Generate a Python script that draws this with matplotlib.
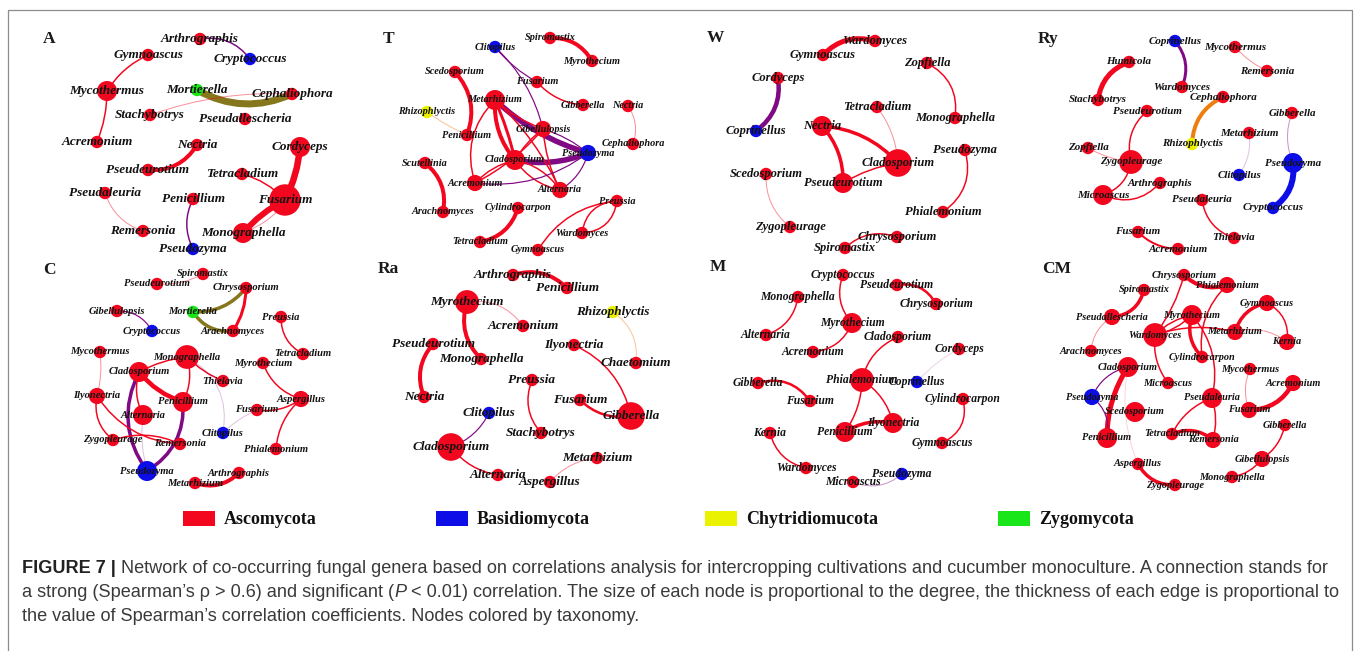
import matplotlib
matplotlib.use('Agg')
import matplotlib.pyplot as plt
from matplotlib.patches import Circle, FancyArrowPatch, Rectangle
from matplotlib import colors as mcolors
from matplotlib import font_manager
from matplotlib.font_manager import FontProperties
import numpy as np

# taxonomy colours used for the nodes
phylum_colors = {'Asc': '#f2071f', 'Bas': '#0d0de8', 'Chy': '#eaf200', 'Zyg': '#19e619'}
phylum_names = [('Asc', 'Ascomycota'), ('Bas', 'Basidiomycota'),
                ('Chy', 'Chytridiomucota'), ('Zyg', 'Zygomycota')]

# ---- network layouts: (genus, x, y, degree, phylum) and edges: (a, b, weight, bend)
nodes_A = [
    ("Arthrographis", 200, 39, 1, 'Asc'), ("Cryptococcus", 250, 59, 1, 'Bas'),
    ("Gymnoascus", 148, 55, 1, 'Asc'), ("Mycothermus", 107, 91, 3, 'Asc'),
    ("Mortierella", 197, 90, 1, 'Zyg'), ("Cephaliophora", 292, 94, 1, 'Asc'),
    ("Stachybotrys", 150, 115, 1, 'Asc'), ("Pseudallescheria", 245, 119, 1, 'Asc'),
    ("Acremonium", 97, 142, 1, 'Asc'), ("Nectria", 197, 145, 1, 'Asc'),
    ("Cordyceps", 300, 147, 3, 'Asc'), ("Pseudeurotium", 148, 170, 1, 'Asc'),
    ("Tetracladium", 242, 174, 1, 'Asc'), ("Pseudaleuria", 105, 193, 1, 'Asc'),
    ("Penicillium", 193, 199, 1, 'Asc'), ("Fusarium", 285, 200, 6, 'Asc'),
    ("Remersonia", 143, 231, 1, 'Asc'), ("Monographella", 243, 233, 3, 'Asc'),
    ("Pseudozyma", 193, 249, 1, 'Bas'),
]
edges_A = [
    ("Arthrographis", "Cryptococcus", 1.5, -0.3), ("Gymnoascus", "Mycothermus", 1.5, 0.15),
    ("Mycothermus", "Acremonium", 1.5, -0.1), ("Mortierella", "Cephaliophora", 7, 0.25),
    ("Stachybotrys", "Cephaliophora", 0.8, -0.1), ("Nectria", "Pseudeurotium", 4, -0.3),
    ("Cordyceps", "Fusarium", 6.5, -0.1), ("Tetracladium", "Fusarium", 1.5, -0.15),
    ("Fusarium", "Monographella", 6, 0.1), ("Cordyceps", "Monographella", 0.8, -0.35),
    ("Pseudaleuria", "Remersonia", 0.8, 0.25), ("Penicillium", "Pseudozyma", 1.5, 0.25),
]

nodes_T = [
    ("Clitopilus", 495, 47, 1, 'Bas'), ("Spiromastix", 550, 38, 1, 'Asc'),
    ("Myrothecium", 592, 61, 1, 'Asc'), ("Scedosporium", 455, 72, 1, 'Asc'),
    ("Fusarium", 537, 82, 1, 'Asc'), ("Metarhizium", 495, 100, 3, 'Asc'),
    ("Gibberella", 583, 105, 1, 'Asc'), ("Nectria", 628, 106, 1, 'Asc'),
    ("Rhizophlyctis", 427, 112, 1, 'Chy'), ("Penicillium", 467, 135, 1, 'Asc'),
    ("Gibellulopsis", 543, 129, 2, 'Asc'), ("Cephaliophora", 633, 144, 1, 'Asc'),
    ("Pseudozyma", 588, 153, 2, 'Bas'), ("Cladosporium", 515, 160, 3, 'Asc'),
    ("Scutellinia", 425, 163, 1, 'Asc'), ("Acremonium", 475, 183, 2, 'Asc'),
    ("Alternaria", 560, 190, 2, 'Asc'), ("Preussia", 617, 201, 1, 'Asc'),
    ("Arachnomyces", 443, 212, 1, 'Asc'), ("Cylindrocarpon", 518, 208, 1, 'Asc'),
    ("Wardomyces", 582, 233, 1, 'Asc'), ("Tetracladium", 480, 242, 1, 'Asc'),
    ("Gymnoascus", 538, 250, 1, 'Asc'),
]
edges_T = [
    ("Clitopilus", "Fusarium", 1.2, 0.1), ("Clitopilus", "Gibellulopsis", 1.2, -0.15),
    ("Spiromastix", "Myrothecium", 4, -0.3), ("Scedosporium", "Penicillium", 4, -0.3),
    ("Fusarium", "Gibberella", 1.5, 0.2), ("Nectria", "Cephaliophora", 0.8, -0.25),
    ("Rhizophlyctis", "Penicillium", 0.8, 0.05), ("Metarhizium", "Pseudozyma", 5.5, 0.12),
    ("Cladosporium", "Pseudozyma", 5.5, 0.15), ("Metarhizium", "Cladosporium", 4, 0.2),
    ("Metarhizium", "Cladosporium", 3, -0.05), ("Metarhizium", "Acremonium", 1.5, 0.3),
    ("Metarhizium", "Gibellulopsis", 1.5, 0.1), ("Metarhizium", "Alternaria", 1.5, -0.1),
    ("Cladosporium", "Acremonium", 1.5, 0.15), ("Cladosporium", "Alternaria", 1.5, -0.2),
    ("Cladosporium", "Alternaria", 1.5, 0.2), ("Cladosporium", "Gibellulopsis", 1.5, -0.1),
    ("Acremonium", "Gibellulopsis", 1.5, 0.1), ("Gibellulopsis", "Alternaria", 1.5, 0.1),
    ("Acremonium", "Pseudozyma", 1.2, 0.2), ("Alternaria", "Pseudozyma", 1.2, 0.2),
    ("Gibellulopsis", "Pseudozyma", 1.2, -0.1), ("Scutellinia", "Arachnomyces", 4, -0.3),
    ("Cylindrocarpon", "Tetracladium", 4, -0.3), ("Preussia", "Wardomyces", 1.5, 0.4),
    ("Preussia", "Wardomyces", 1.5, -0.4), ("Preussia", "Gymnoascus", 1.5, 0.25),
]

nodes_W = [
    ("Wardomyces", 875, 41, 1, 'Asc'), ("Gymnoascus", 823, 55, 1, 'Asc'),
    ("Zopfiella", 927, 63, 1, 'Asc'), ("Cordyceps", 778, 78, 1, 'Asc'),
    ("Tetracladium", 877, 107, 1, 'Asc'), ("Monographella", 955, 118, 1, 'Asc'),
    ("Coprinellus", 756, 131, 1, 'Bas'), ("Nectria", 822, 126, 3, 'Asc'),
    ("Pseudozyma", 965, 150, 1, 'Asc'), ("Cladosporium", 898, 163, 5, 'Asc'),
    ("Scedosporium", 766, 174, 1, 'Asc'), ("Pseudeurotium", 843, 183, 3, 'Asc'),
    ("Phialemonium", 943, 212, 1, 'Asc'), ("Zygopleurage", 790, 227, 1, 'Asc'),
    ("Chrysosporium", 897, 237, 1, 'Asc'), ("Spiromastix", 845, 248, 1, 'Asc'),
]
edges_W = [
    ("Gymnoascus", "Wardomyces", 5, -0.3), ("Zopfiella", "Monographella", 1.5, -0.35),
    ("Cordyceps", "Coprinellus", 4.5, -0.3), ("Tetracladium", "Cladosporium", 0.8, -0.15),
    ("Nectria", "Cladosporium", 3.5, -0.2), ("Nectria", "Pseudeurotium", 3.5, -0.2),
    ("Pseudeurotium", "Cladosporium", 1.5, -0.1), ("Pseudozyma", "Phialemonium", 1.5, -0.35),
    ("Scedosporium", "Zygopleurage", 0.8, 0.25), ("Spiromastix", "Chrysosporium", 1.5, -0.3),
]

nodes_Ry = [
    ("Coprinellus", 1175, 41, 1, 'Bas'), ("Mycothermus", 1235, 47, 1, 'Asc'),
    ("Humicola", 1129, 62, 1, 'Asc'), ("Remersonia", 1267, 71, 1, 'Asc'),
    ("Wardomyces", 1182, 87, 1, 'Asc'), ("Cephaliophora", 1223, 97, 1, 'Asc'),
    ("Stachybotrys", 1098, 100, 1, 'Asc'), ("Pseudeurotium", 1147, 111, 1, 'Asc'),
    ("Gibberella", 1292, 113, 1, 'Asc'), ("Metarhizium", 1249, 133, 1, 'Asc'),
    ("Rhizophlyctis", 1192, 144, 1, 'Chy'), ("Zopfiella", 1088, 148, 1, 'Asc'),
    ("Zygopleurage", 1131, 162, 4, 'Asc'), ("Pseudozyma", 1293, 163, 3, 'Bas'),
    ("Clitopilus", 1239, 175, 1, 'Bas'), ("Arthrographis", 1160, 183, 1, 'Asc'),
    ("Microascus", 1103, 195, 3, 'Asc'), ("Pseudaleuria", 1202, 200, 1, 'Asc'),
    ("Cryptococcus", 1273, 208, 1, 'Bas'), ("Fusarium", 1138, 232, 1, 'Asc'),
    ("Thielavia", 1234, 238, 1, 'Asc'), ("Acremonium", 1178, 249, 1, 'Asc'),
]
edges_Ry = [
    ("Coprinellus", "Wardomyces", 3, -0.3), ("Mycothermus", "Remersonia", 0.8, 0.1),
    ("Humicola", "Stachybotrys", 5, 0.3), ("Cephaliophora", "Rhizophlyctis", 4, 0.3),
    ("Pseudeurotium", "Zygopleurage", 1.5, 0.3), ("Zopfiella", "Zygopleurage", 0.8, 0.1),
    ("Zygopleurage", "Microascus", 1.5, -0.3), ("Microascus", "Arthrographis", 1.5, 0.35),
    ("Gibberella", "Pseudozyma", 0.8, 0.2), ("Metarhizium", "Clitopilus", 0.6, -0.2),
    ("Pseudozyma", "Cryptococcus", 6, -0.3), ("Pseudaleuria", "Thielavia", 1.5, 0.3),
    ("Fusarium", "Acremonium", 2, 0.2),
]

nodes_C = [
    ("Spiromastix", 203, 274, 1, 'Asc'), ("Pseudeurotium", 157, 284, 1, 'Asc'),
    ("Chrysosporium", 246, 288, 1, 'Asc'), ("Gibellulopsis", 117, 311, 1, 'Asc'),
    ("Mortierella", 193, 312, 1, 'Zyg'), ("Preussia", 281, 317, 1, 'Asc'),
    ("Cryptococcus", 152, 331, 1, 'Bas'), ("Arachnomyces", 233, 331, 1, 'Asc'),
    ("Mycothermus", 100, 352, 1, 'Asc'), ("Monographella", 187, 357, 4, 'Asc'),
    ("Tetracladium", 303, 354, 1, 'Asc'), ("Myrothecium", 263, 363, 1, 'Asc'),
    ("Cladosporium", 139, 372, 3, 'Asc'), ("Thielavia", 223, 381, 1, 'Asc'),
    ("Ilyonectria", 97, 396, 2, 'Asc'), ("Penicillium", 183, 402, 3, 'Asc'),
    ("Aspergillus", 301, 399, 2, 'Asc'), ("Alternaria", 143, 415, 3, 'Asc'),
    ("Fusarium", 257, 410, 1, 'Asc'), ("Clitopilus", 223, 433, 1, 'Bas'),
    ("Zygopleurage", 113, 440, 1, 'Asc'), ("Remersonia", 180, 444, 1, 'Asc'),
    ("Phialemonium", 276, 449, 1, 'Asc'), ("Pseudozyma", 147, 471, 3, 'Bas'),
    ("Arthrographis", 239, 473, 1, 'Asc'), ("Metarhizium", 195, 483, 1, 'Asc'),
]
edges_C = [
    ("Spiromastix", "Pseudeurotium", 0.8, -0.15), ("Mortierella", "Chrysosporium", 3.5, 0.25),
    ("Mortierella", "Arachnomyces", 3.5, 0.3), ("Chrysosporium", "Arachnomyces", 3, -0.15),
    ("Gibellulopsis", "Cryptococcus", 1.2, -0.3), ("Preussia", "Tetracladium", 1.5, 0.3),
    ("Mycothermus", "Ilyonectria", 0.8, -0.1), ("Monographella", "Cladosporium", 1.5, 0.1),
    ("Monographella", "Thielavia", 1.5, 0.1), ("Monographella", "Penicillium", 1.5, -0.2),
    ("Monographella", "Clitopilus", 0.6, -0.35), ("Cladosporium", "Penicillium", 4.5, 0.15),
    ("Cladosporium", "Alternaria", 1.5, 0.2), ("Cladosporium", "Pseudozyma", 3.5, 0.3),
    ("Penicillium", "Pseudozyma", 3.5, -0.3), ("Alternaria", "Pseudozyma", 0.6, 0.1),
    ("Ilyonectria", "Zygopleurage", 1.5, 0.3), ("Ilyonectria", "Remersonia", 1.5, 0.25),
    ("Zygopleurage", "Remersonia", 1.5, -0.2), ("Myrothecium", "Aspergillus", 1.5, 0.25),
    ("Fusarium", "Aspergillus", 1.5, 0.2), ("Aspergillus", "Phialemonium", 1.5, 0.2),
    ("Fusarium", "Clitopilus", 0.6, 0.1), ("Arthrographis", "Metarhizium", 4, -0.3),
]

nodes_Ra = [
    ("Arthrographis", 513, 275, 1, 'Asc'), ("Penicillium", 567, 288, 1, 'Asc'),
    ("Myrothecium", 467, 302, 4, 'Asc'), ("Rhizophlyctis", 613, 312, 1, 'Chy'),
    ("Acremonium", 523, 326, 1, 'Asc'), ("Pseudeurotium", 433, 344, 1, 'Asc'),
    ("Ilyonectria", 574, 345, 1, 'Asc'), ("Monographella", 481, 359, 1, 'Asc'),
    ("Chaetomium", 636, 363, 1, 'Asc'), ("Preussia", 532, 380, 1, 'Asc'),
    ("Nectria", 424, 397, 1, 'Asc'), ("Fusarium", 580, 400, 1, 'Asc'),
    ("Clitopilus", 489, 413, 1, 'Bas'), ("Gibberella", 631, 416, 5, 'Asc'),
    ("Stachybotrys", 541, 433, 1, 'Asc'), ("Cladosporium", 451, 447, 5, 'Asc'),
    ("Metarhizium", 597, 458, 1, 'Asc'), ("Alternaria", 498, 475, 1, 'Asc'),
    ("Aspergillus", 550, 482, 1, 'Asc'),
]
edges_Ra = [
    ("Arthrographis", "Penicillium", 4, -0.3), ("Myrothecium", "Acremonium", 0.8, -0.3),
    ("Myrothecium", "Monographella", 4, 0.3), ("Rhizophlyctis", "Chaetomium", 0.8, -0.3),
    ("Pseudeurotium", "Nectria", 4, 0.3), ("Ilyonectria", "Gibberella", 1.5, -0.25),
    ("Preussia", "Stachybotrys", 1.5, 0.3), ("Fusarium", "Gibberella", 2.5, 0.25),
    ("Clitopilus", "Cladosporium", 1.2, -0.2), ("Cladosporium", "Alternaria", 1.5, 0.2),
    ("Metarhizium", "Aspergillus", 0.8, 0.2),
]

nodes_M = [
    ("Cryptococcus", 843, 275, 1, 'Asc'), ("Pseudeurotium", 897, 285, 1, 'Asc'),
    ("Monographella", 798, 297, 1, 'Asc'), ("Chrysosporium", 936, 304, 1, 'Asc'),
    ("Myrothecium", 852, 323, 3, 'Asc'), ("Alternaria", 766, 335, 1, 'Asc'),
    ("Cladosporium", 898, 337, 1, 'Asc'), ("Acremonium", 813, 352, 1, 'Asc'),
    ("Cordyceps", 959, 349, 1, 'Asc'), ("Phialemonium", 862, 380, 4, 'Asc'),
    ("Coprinellus", 917, 382, 1, 'Bas'), ("Gibberella", 758, 383, 1, 'Asc'),
    ("Fusarium", 810, 401, 1, 'Asc'), ("Cylindrocarpon", 963, 399, 1, 'Asc'),
    ("Ilyonectria", 893, 423, 3, 'Asc'), ("Kernia", 770, 433, 1, 'Asc'),
    ("Penicillium", 845, 432, 3, 'Asc'), ("Gymnoascus", 942, 443, 1, 'Asc'),
    ("Wardomyces", 806, 468, 1, 'Asc'), ("Pseudozyma", 902, 474, 1, 'Bas'),
    ("Microascus", 853, 482, 1, 'Asc'),
]
edges_M = [
    ("Cryptococcus", "Myrothecium", 1.5, 0.3), ("Pseudeurotium", "Chrysosporium", 2.5, -0.35),
    ("Monographella", "Alternaria", 1.5, -0.3), ("Myrothecium", "Acremonium", 1.5, -0.3),
    ("Cladosporium", "Phialemonium", 1.5, 0.25), ("Cordyceps", "Coprinellus", 0.5, 0.1),
    ("Gibberella", "Fusarium", 2.5, -0.35), ("Phialemonium", "Ilyonectria", 1.5, -0.2),
    ("Phialemonium", "Penicillium", 1.5, -0.15), ("Penicillium", "Ilyonectria", 3.5, -0.2),
    ("Cylindrocarpon", "Gymnoascus", 1.5, -0.4), ("Kernia", "Wardomyces", 1.5, 0.3),
    ("Microascus", "Pseudozyma", 0.8, 0.3),
]

nodes_CM = [
    ("Chrysosporium", 1184, 275, 1, 'Asc'), ("Phialemonium", 1227, 285, 2, 'Asc'),
    ("Spiromastix", 1144, 290, 1, 'Asc'), ("Gymnoascus", 1267, 303, 2, 'Asc'),
    ("Myrothecium", 1192, 315, 3, 'Asc'), ("Pseudallescheria", 1112, 317, 2, 'Asc'),
    ("Metarhizium", 1235, 332, 2, 'Asc'), ("Wardomyces", 1155, 335, 4, 'Asc'),
    ("Kernia", 1287, 342, 2, 'Asc'), ("Arachnomyces", 1091, 351, 1, 'Asc'),
    ("Cylindrocarpon", 1202, 357, 1, 'Asc'), ("Cladosporium", 1128, 367, 3, 'Asc'),
    ("Mycothermus", 1250, 369, 1, 'Asc'), ("Acremonium", 1293, 383, 2, 'Asc'),
    ("Microascus", 1168, 383, 1, 'Asc'), ("Pseudozyma", 1092, 397, 2, 'Bas'),
    ("Pseudaleuria", 1212, 398, 3, 'Asc'), ("Scedosporium", 1135, 412, 3, 'Asc'),
    ("Fusarium", 1249, 410, 2, 'Asc'), ("Gibberella", 1285, 425, 1, 'Asc'),
    ("Penicillium", 1107, 438, 3, 'Asc'), ("Tetracladium", 1172, 434, 1, 'Asc'),
    ("Remersonia", 1213, 440, 2, 'Asc'), ("Gibellulopsis", 1262, 459, 2, 'Asc'),
    ("Aspergillus", 1138, 464, 1, 'Asc'), ("Monographella", 1232, 477, 1, 'Asc'),
    ("Zygopleurage", 1175, 485, 1, 'Asc'),
]
edges_CM = [
    ("Chrysosporium", "Phialemonium", 4, 0.3), ("Chrysosporium", "Wardomyces", 1.5, -0.1),
    ("Phialemonium", "Cylindrocarpon", 1.5, 0.25), ("Spiromastix", "Pseudallescheria", 3.5, -0.35),
    ("Pseudallescheria", "Arachnomyces", 0.8, 0.25), ("Myrothecium", "Wardomyces", 1.5, 0.15),
    ("Myrothecium", "Wardomyces", 1.5, -0.15), ("Myrothecium", "Cylindrocarpon", 3.5, 0.3),
    ("Myrothecium", "Pseudaleuria", 1.5, -0.25), ("Wardomyces", "Metarhizium", 1.5, -0.15),
    ("Wardomyces", "Microascus", 1.5, 0.2), ("Gymnoascus", "Metarhizium", 3.5, 0.3),
    ("Gymnoascus", "Kernia", 1.5, -0.35), ("Metarhizium", "Kernia", 0.8, -0.25),
    ("Cladosporium", "Penicillium", 5, 0.15), ("Cladosporium", "Pseudozyma", 1.2, 0.25),
    ("Pseudozyma", "Penicillium", 1.2, -0.3), ("Cladosporium", "Aspergillus", 0.5, 0.15),
    ("Mycothermus", "Fusarium", 0.8, 0.2), ("Acremonium", "Fusarium", 4.5, -0.3),
    ("Pseudaleuria", "Tetracladium", 1.5, 0.2), ("Pseudaleuria", "Remersonia", 1.5, -0.15),
    ("Tetracladium", "Remersonia", 3.5, -0.3), ("Gibberella", "Gibellulopsis", 1.5, -0.2),
    ("Gibellulopsis", "Monographella", 1.5, -0.2), ("Aspergillus", "Zygopleurage", 3.5, 0.3),
]

# panel title, title anchor, label font size
panels = [
    ("A", (43, 43), 9.5, nodes_A, edges_A),
    ("T", (383, 43), 7.4, nodes_T, edges_T),
    ("W", (707, 42), 9.0, nodes_W, edges_W),
    ("Ry", (1038, 43), 7.9, nodes_Ry, edges_Ry),
    ("C", (43, 274), 7.6, nodes_C, edges_C),
    ("Ra", (378, 273), 9.5, nodes_Ra, edges_Ra),
    ("M", (710, 271), 8.4, nodes_M, edges_M),
    ("CM", (1042, 273), 7.4, nodes_CM, edges_CM),
]

caption = [
    [("FIGURE 7 | ", 'bold', 'normal'),
     ("Network of co-occurring fungal genera based on correlations analysis for intercropping "
      "cultivations and cucumber monoculture. A connection stands for", 'normal', 'normal')],
    [("a strong (Spearman\u2019s \u03c1 > 0.6) and significant (", 'normal', 'normal'),
     ("P", 'normal', 'italic'),
     (" < 0.01) correlation. The size of each node is proportional to the degree, the thickness "
      "of each edge is proportional to", 'normal', 'normal')],
    [("the value of Spearman\u2019s correlation coefficients. Nodes colored by taxonomy.",
      'normal', 'normal')],
]

W, H = 1360, 651
fig = plt.figure(figsize=(13.6, 6.51), dpi=100)
ax = fig.add_axes([0, 0, 1, 1])
ax.set_xlim(0, W)
ax.set_ylim(H, 0)
ax.axis('off')

serif = ['Liberation Serif', 'DejaVu Serif']

# outer frame
ax.add_patch(Rectangle((8, 10), 1344, 700, fill=False, ec='#8c8c8c', lw=0.9, zorder=0))


def node_radius(deg):
    return 4.3 + 1.9 * deg


def draw_network(nodes, edges, fs):
    pos = {n[0]: (n[1], n[2]) for n in nodes}
    col = {n[0]: np.array(mcolors.to_rgb(phylum_colors[n[4]])) for n in nodes}
    for a, b, w, bend in edges:
        c = (col[a] + col[b]) / 2
        alpha = min(1.0, w / 1.2) ** 2
        lw = max(w, 1.0) * 0.72
        ax.add_patch(FancyArrowPatch(pos[a], pos[b], arrowstyle='-',
                                     connectionstyle=f'arc3,rad={bend}',
                                     color=c, alpha=alpha, lw=lw,
                                     shrinkA=0, shrinkB=0, zorder=1,
                                     capstyle='round'))
    for name, x, y, deg, ph in nodes:
        ax.add_patch(Circle((x, y), node_radius(deg), color=phylum_colors[ph],
                            lw=0, zorder=2))
        ax.text(x, y, name, ha='center', va='center', fontsize=fs,
                fontstyle='italic', fontweight='bold', family=serif,
                color='#111111', zorder=3)


for title, (tx, ty), fs, nodes, edges in panels:
    draw_network(nodes, edges, fs)
    ax.text(tx, ty, title, ha='left', va='baseline', fontsize=12.5,
            fontweight='bold', family=serif, color='#1a1a1a', zorder=4)

# legend
leg_x = [183, 436, 705, 998]
for (ph, label), lx in zip(phylum_names, leg_x):
    ax.add_patch(Rectangle((lx, 511), 32, 15, color=phylum_colors[ph], lw=0))
    ax.text(lx + 41, 519, label, ha='left', va='center', fontsize=13,
            fontweight='bold', family=serif, color='#111111')

# caption
names = {f.name for f in font_manager.fontManager.ttflist}
cap_family = 'Liberation Sans Narrow' if 'Liberation Sans Narrow' in names else 'Liberation Sans'
renderer = fig.canvas.get_renderer()


def seg_width(s, weight, style, size):
    prop = FontProperties(family=cap_family, weight=weight, style=style, size=size)
    w1 = renderer.get_text_width_height_descent('X' + s + 'X', prop, ismath=False)[0]
    w0 = renderer.get_text_width_height_descent('XX', prop, ismath=False)[0]
    return w1 - w0


ref = sum(seg_width(s, wt, st, 10) for s, wt, st in caption[1])
cap_size = 10 * 1320 / ref
cap_y = [573, 597, 621]
for line, y in zip(caption, cap_y):
    x = 22
    for s, wt, st in line:
        ax.text(x, y, s, ha='left', va='baseline', fontsize=cap_size,
                fontweight=wt, fontstyle=st, family=cap_family,
                color='#222222' if wt == 'bold' else '#3a3a3a')
        x += seg_width(s, wt, st, cap_size)

fig.savefig('out.png', dpi=100)
